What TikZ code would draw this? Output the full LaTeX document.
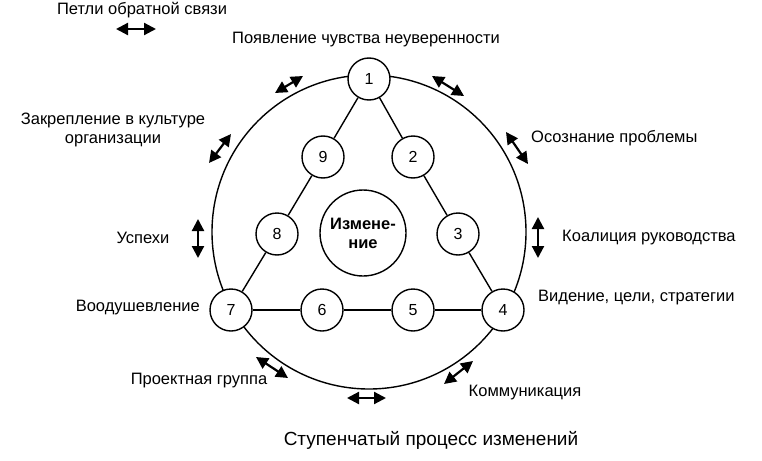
\documentclass[tikz,border=0pt]{standalone}
\usepackage{fontspec}
\setmainfont{Liberation Sans}
\usetikzlibrary{arrows.meta}
\begin{document}
\begin{tikzpicture}[x=1pt,y=-1pt,
  stage/.style={circle,draw,line width=1.4pt,fill=white,minimum size=42pt,inner sep=0pt,font=\fontsize{16}{16}\selectfont},
  lbl/.style={font=\fontsize{16.5}{19.5}\selectfont,inner sep=0pt},
  fb/.style={line width=2.2pt,{Triangle[length=12pt,width=12pt]}-{Triangle[length=12pt,width=12pt]}},
  link/.style={line width=1.4pt}]
\useasboundingbox (0,0) rectangle (762,460);
\fill[white] (0,0) rectangle (762,460);
\node[circle,draw,line width=1.4pt,minimum size=314pt,inner sep=0pt] (ring) at (369,232) {};
\node[stage] (n1) at (369,79) {1};
\node[stage] (n2) at (413,157) {2};
\node[stage] (n3) at (458,234) {3};
\node[stage] (n4) at (503,310) {4};
\node[stage] (n5) at (413,310) {5};
\node[stage] (n6) at (322,310) {6};
\node[stage] (n7) at (231,310) {7};
\node[stage] (n8) at (277,234) {8};
\node[stage] (n9) at (323,157) {9};
\node[circle,draw,line width=1.4pt,minimum size=86pt,inner sep=0pt,align=center,font=\fontsize{16.5}{19}\selectfont\bfseries] (ch) at (363,233) {Измене-\\ние};
\draw[link] (n1) -- (n2); \draw[link] (n2) -- (n3); \draw[link] (n3) -- (n4);
\draw[link] (n4) -- (n5); \draw[link] (n5) -- (n6); \draw[link] (n6) -- (n7);
\draw[link] (n7) -- (n8); \draw[link] (n8) -- (n9); \draw[link] (n9) -- (n1);
% labels
\node[lbl] (lfb) at (142,10) {Петли обратной связи};
\node[lbl] (l1) at (366,40) {Появление чувства неуверенности};
\node[lbl,align=center] (l9) at (113,130) {Закрепление в культуре\\организации};
\node[lbl,anchor=west] (l2) at (531,138) {Осознание проблемы};
\node[lbl] (l8) at (143,238) {Успехи};
\node[lbl,anchor=east] (l7) at (200,308) {Воодушевление};
\node[lbl,anchor=west] (l3) at (562,238) {Коалиция руководства};
\node[lbl,anchor=west] (l4) at (538,298) {Видение, цели, стратегии};
\node[lbl] (l6) at (199,381) {Проектная группа};
\node[lbl] (l5) at (525,393) {Коммуникация};
\node[font=\fontsize{19}{21}\selectfont,inner sep=0pt] (title) at (431,440) {Ступенчатый процесс изменений};
% feedback arrows
\coordinate (a0s) at (116,29); \coordinate (a0e) at (156,29);
\draw[fb] (a0s) -- (a0e);
\coordinate (a1s) at (275,93); \coordinate (a1e) at (303,76);
\draw[fb] (a1s) -- (a1e);
\coordinate (a2s) at (432,76); \coordinate (a2e) at (464,96);
\draw[fb] (a2s) -- (a2e);
\coordinate (a3s) at (209,163); \coordinate (a3e) at (231,134);
\draw[fb] (a3s) -- (a3e);
\coordinate (a4s) at (506,132); \coordinate (a4e) at (528,164);
\draw[fb] (a4s) -- (a4e);
\coordinate (a5s) at (538,217); \coordinate (a5e) at (538,258);
\draw[fb] (a5s) -- (a5e);
\coordinate (a6s) at (198,219); \coordinate (a6e) at (198,258);
\draw[fb] (a6s) -- (a6e);
\coordinate (a7s) at (256,357); \coordinate (a7e) at (288,378);
\draw[fb] (a7s) -- (a7e);
\coordinate (a8s) at (473,361); \coordinate (a8e) at (444,384);
\draw[fb] (a8s) -- (a8e);
\coordinate (a9s) at (347,398); \coordinate (a9e) at (386,398);
\draw[fb] (a9s) -- (a9e);
\end{tikzpicture}
\end{document}
